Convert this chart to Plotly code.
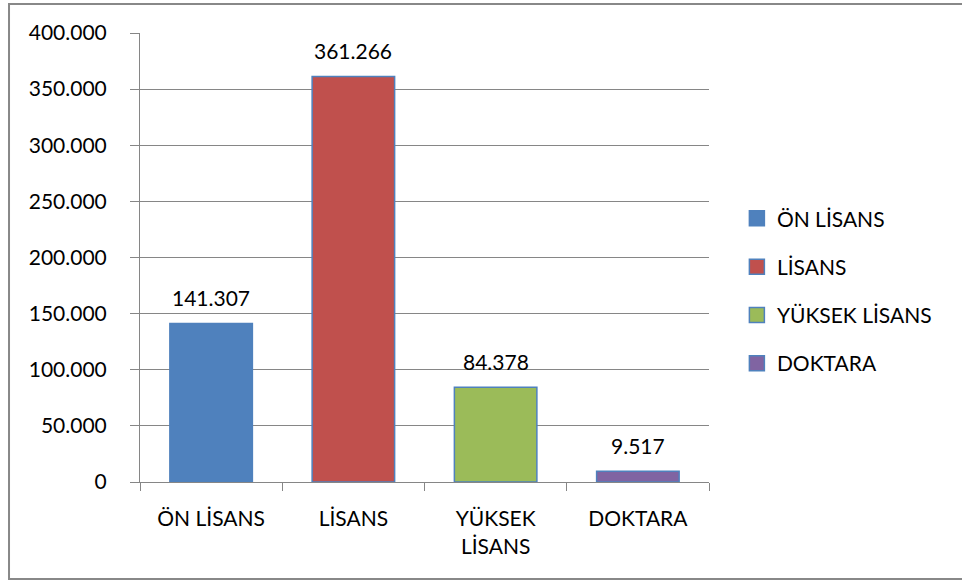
import plotly.graph_objects as go

# veri
kategoriler = ["ÖN LİSANS", "LİSANS", "YÜKSEK LİSANS", "DOKTARA"]
etiketler = ["ÖN LİSANS", "LİSANS", "YÜKSEK<br>LİSANS", "DOKTARA"]
degerler = [141307, 361266, 84378, 9517]
renkler = ["#4F81BD", "#C0504D", "#9BBB59", "#8064A2"]
y_ticks = [0, 50000, 100000, 150000, 200000, 250000, 300000, 350000, 400000]

FONT = "Lato"
FS = 21
fig = go.Figure()

for kat, val, renk in zip(kategoriler, degerler, renkler):
    fig.add_trace(go.Bar(
        x=[kat], y=[val], name=kat,
        marker=dict(color=renk, line=dict(color="#4F81BD", width=1.5)),
        showlegend=False, hoverinfo="x+y",
    ))

# lejant icin kare isaretler
for kat, renk in zip(kategoriler, renkler):
    fig.add_trace(go.Scatter(
        x=[None], y=[None], mode="markers", name=kat, legendgroup=kat,
        marker=dict(symbol="square", size=15, color=renk,
                    line=dict(color="#4F81BD", width=1.5)),
    ))

# veri etiketleri
for kat, val in zip(kategoriler, degerler):
    fig.add_annotation(
        x=kat, y=val, text=f"{val:,}".replace(",", "."),
        showarrow=False, yanchor="bottom", yshift=11,
        font=dict(family=FONT, size=FS, color="black"),
    )

# dis cerceve
fig.add_shape(type="rect", xref="paper", yref="paper",
              x0=-0.2302, x1=1.4675, y0=-0.216, y1=1.0646,
              line=dict(color="#888888", width=2), layer="below")

fig.update_layout(
    width=962, height=580,
    margin=dict(l=140, r=253, t=33, b=98),
    barmode="overlay",
    bargap=0.42,
    separators=",.",
    plot_bgcolor="white",
    paper_bgcolor="white",
    font=dict(family=FONT, size=FS, color="black"),
    legend=dict(x=1.049, xanchor="left", y=0.425, yanchor="middle",
                tracegroupgap=18, font=dict(size=FS)),
)
fig.update_xaxes(
    type="category", tickmode="array", tickvals=kategoriler,
    ticktext=etiketler, showline=True, linecolor="#868686", linewidth=1,
    ticks="outside", tickson="boundaries", ticklen=8, tickcolor="#868686",
    ticklabelstandoff=18, showgrid=False,
)
fig.update_yaxes(
    range=[0, 400000], tickvals=y_ticks, tickformat=",d",
    showline=True, linecolor="#868686", linewidth=1,
    ticks="outside", ticklen=9, tickcolor="#868686",
    showgrid=True, gridcolor="#868686", gridwidth=1,
    ticklabelstandoff=19, zeroline=False,
)

fig.write_html("out.html", config={"displayModeBar": False},
               post_script="document.body.style.margin='0';")
